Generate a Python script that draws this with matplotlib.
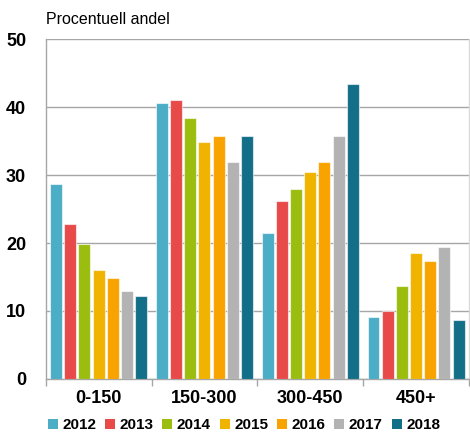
import numpy as np
import matplotlib.pyplot as plt
from matplotlib.patches import Patch

plt.rcParams['font.family'] = ['Liberation Sans', 'DejaVu Sans']

# Andel per kategori och år
categories = ['0-150', '150-300', '300-450', '450+']
years = ['2012', '2013', '2014', '2015', '2016', '2017', '2018']
v2012 = [28.7, 40.6, 21.5, 9.1]
v2013 = [22.8, 41.1, 26.2, 10.0]
v2014 = [19.9, 38.5, 28.0, 13.6]
v2015 = [16.0, 34.9, 30.4, 18.6]
v2016 = [14.9, 35.8, 32.0, 17.4]
v2017 = [12.9, 32.0, 35.8, 19.4]
v2018 = [12.2, 35.8, 43.4, 8.6]
series = [v2012, v2013, v2014, v2015, v2016, v2017, v2018]
colors = ['#4BADC6', '#E84A4A', '#9BBD0F', '#F0B400', '#F9A300', '#B3B3B3', '#136F87']

fig = plt.figure(figsize=(4.70, 4.32), dpi=100)
ax = fig.add_axes([0.0972, 0.1234, 0.9006, 0.7852])

x = np.arange(len(categories))
pitch = 0.134
width = 0.113
for i, (vals, c) in enumerate(zip(series, colors)):
    ax.bar(x + (i - 3) * pitch, vals, width=width, color=c,
           edgecolor=(1, 1, 1, 0.6), linewidth=0.8, zorder=3)

ax.set_xlim(-0.5, 3.5)
ax.set_ylim(0, 50)
ax.set_yticks(range(0, 51, 10))
ax.yaxis.grid(True, color='#A6A6A6', linewidth=1.0, zorder=0)
ax.tick_params(axis='y', length=0, pad=14, labelsize=13)
for lbl in ax.get_yticklabels():
    lbl.set_fontweight('bold')

# kategorigränser som ticks, etiketter mitt i varje grupp
ax.set_xticks(np.arange(-0.5, 4.0, 1.0))
ax.set_xticklabels([])
ax.set_xticks(x, minor=True)
ax.set_xticklabels(categories, minor=True, fontsize=13, fontweight='bold')
ax.tick_params(axis='x', which='major', length=5, color='#A6A6A6', width=1)
ax.tick_params(axis='x', which='minor', length=0, pad=8)

for side in ['left', 'bottom']:
    ax.spines[side].set_color('#A6A6A6')
    ax.spines[side].set_linewidth(1.0)
ax.spines['top'].set_visible(False)
ax.spines['right'].set_color('#D9D9D9')
ax.spines['right'].set_linewidth(1.0)

fig.text(0.097, 0.955, 'Procentuell andel', fontsize=11.5, va='center', ha='left')

handles = [Patch(facecolor=c, edgecolor='none') for c in colors]
fig.legend(handles, years, loc='center', bbox_to_anchor=(0.519, 0.016), ncol=7,
           frameon=False, handlelength=0.65, handleheight=0.65, handletextpad=0.3,
           columnspacing=0.58, prop={'size': 11, 'weight': 'bold'}, borderaxespad=0)

fig.savefig('out.png', dpi=100)
